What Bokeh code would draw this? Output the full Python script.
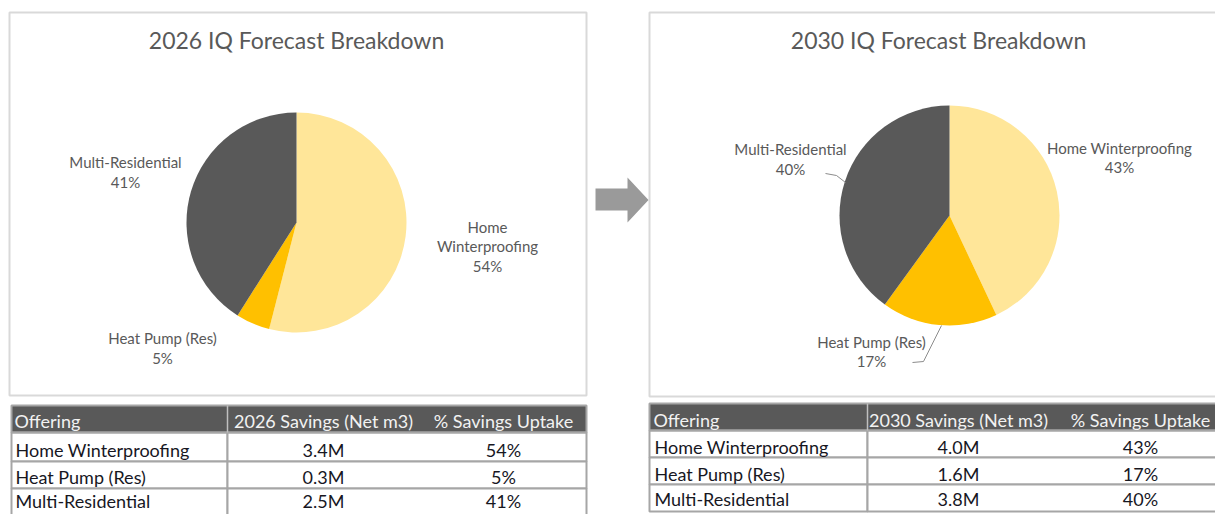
import math
from bokeh.plotting import figure
from bokeh.models import Range1d, ColumnDataSource
from bokeh.core.properties import value
from bokeh.embed import file_html
from bokeh.resources import INLINE

# ---------------- data ----------------
offerings = ["Home Winterproofing", "Heat Pump (Res)", "Multi-Residential"]
titles = ["2026 IQ Forecast Breakdown", "2030 IQ Forecast Breakdown"]
savings_2026 = [3.4, 0.3, 2.5]      # million m3 (net)
uptake_2026 = [54, 5, 41]           # % savings uptake
savings_2030 = [4.0, 1.6, 3.8]
uptake_2030 = [43, 17, 40]
headers_2026 = ["Offering", "2026 Savings (Net m3)", "% Savings Uptake"]
headers_2030 = ["Offering", "2030 Savings (Net m3)", "% Savings Uptake"]

# ---------------- styles ----------------
SLICE_COLORS = ["#FFE699", "#FFC000", "#595959"]
FONT = "Lato"
GREY_TXT = "#595959"
TABLE_TXT = "#17171f"
BOX_LINE = "#d9d9d9"
TABLE_LINE = "#a6a6a6"
HEADER_FILL = "#595959"
TITLE_PX, LABEL_PX, TABLE_PX = 23, 15, 18
BASE_FIX = 0.42   # empirical baseline correction (em)

W, H = 1215, 514


def Y(ry):
    """reference pixel row -> data y"""
    return H - ry


# ---------------- layout ----------------
charts = [
    dict(box=(9, 12, 586, 395), center=(296, 222), r=110, title=(296, 49),
         labels=[(487, [233, 252, 272], True), (162, [344, 364], False), (125, [168, 188], False)],
         leaders=[],
         table=dict(x0=11, x1=586, split=227, c2=323, c3=503, tx=15,
                    rows=[405, 432, 461, 488, 517], base=[428, 457, 484, 508])),
    dict(box=(649, 12, 1230, 396), center=(949, 215), r=110, title=(938, 49),
         labels=[(1119, [154, 173], False), (871, [348, 367], False), (790, [155, 175], False)],
         leaders=[([941, 923, 912], [325, 361, 362]), ([825, 836, 845], [173, 175, 182])],
         table=dict(x0=649, x1=1230, split=867, c2=958, c3=1140, tx=654,
                    rows=[403, 430, 457, 484, 511], base=[427, 454, 481, 506])),
]

p = figure(width=W, height=H, x_range=Range1d(0, W), y_range=Range1d(0, H),
           output_backend="svg", toolbar_location=None, min_border=0,
           x_axis_type=None, y_axis_type=None)
p.grid.visible = False
p.outline_line_color = None
p.background_fill_color = "white"
p.border_fill_color = "white"


def txt(xs, rys, texts, size, color, align="center"):
    ys = [Y(r - BASE_FIX * size) for r in rys]
    p.text(x=xs, y=ys, text=texts, text_font=value(FONT), text_font_size=f"{size}px",
           text_color=color, text_align=align, text_baseline="alphabetic")


years_data = [(savings_2026, uptake_2026, headers_2026), (savings_2030, uptake_2030, headers_2030)]

for idx, L in enumerate(charts):
    savings, uptake, headers = years_data[idx]
    # chart box
    bx0, by0, bx1, by1 = L["box"]
    p.quad(left=bx0, right=bx1, top=Y(by0), bottom=Y(by1), fill_color="white",
           line_color=BOX_LINE, line_width=2)
    # title
    txt([L["title"][0]], [L["title"][1]], [titles[idx]], TITLE_PX, GREY_TXT)
    # pie
    total = sum(uptake)
    cum = [0]
    for u in uptake:
        cum.append(cum[-1] + u)
    start = [math.pi / 2 - 2 * math.pi * c / total for c in cum[:-1]]
    end = [math.pi / 2 - 2 * math.pi * c / total for c in cum[1:]]
    src = ColumnDataSource(dict(start=start, end=end, color=SLICE_COLORS))
    cx, cy = L["center"]
    p.wedge(x=cx, y=Y(cy), radius=L["r"], start_angle="start", end_angle="end",
            direction="clock", fill_color="color", line_color=None, source=src)
    # leader lines
    for lx, ly in L["leaders"]:
        p.line(x=lx, y=[Y(v) for v in ly], line_color="#8c8c8c", line_width=1)
    # data labels
    for i, (lx, bases, wrap) in enumerate(L["labels"]):
        name = offerings[i]
        lines = name.split(" ") if wrap else [name]
        lines = lines + [f"{uptake[i]}%"]
        txt([lx] * len(lines), bases, lines, LABEL_PX, GREY_TXT)

    # table
    T = L["table"]
    rows = T["rows"]
    n = len(offerings)
    # header background
    p.quad(left=T["x0"], right=T["x1"], top=Y(rows[0]), bottom=Y(rows[1]),
           fill_color=HEADER_FILL, line_color=None)
    # body cells
    p.quad(left=[T["x0"]] * n, right=[T["split"]] * n,
           top=[Y(rows[i + 1]) for i in range(n)], bottom=[Y(rows[i + 2]) for i in range(n)],
           fill_color="white", line_color=TABLE_LINE, line_width=2)
    p.quad(left=[T["split"]] * n, right=[T["x1"]] * n,
           top=[Y(rows[i + 1]) for i in range(n)], bottom=[Y(rows[i + 2]) for i in range(n)],
           fill_color="white", line_color=TABLE_LINE, line_width=2)
    # header outline + separator
    p.quad(left=T["x0"], right=T["x1"], top=Y(rows[0]), bottom=Y(rows[1]),
           fill_color=None, line_color=TABLE_LINE, line_width=2)
    p.segment(x0=T["split"], x1=T["split"], y0=Y(rows[0]), y1=Y(rows[1]),
              line_color="#bfbfbf", line_width=1.5)
    # header text
    txt([T["tx"] - 1], [T["base"][0]], [headers[0]], TABLE_PX, "#f2f2f2", "left")
    txt([T["c2"], T["c3"]], [T["base"][0]] * 2, headers[1:], TABLE_PX, "#f2f2f2")
    # body text
    bases = T["base"][1:]
    txt([T["tx"]] * n, bases, offerings, TABLE_PX, TABLE_TXT, "left")
    txt([T["c2"]] * n, bases, [f"{s:.1f}M" for s in savings], TABLE_PX, TABLE_TXT)
    txt([T["c3"]] * n, bases, [f"{u}%" for u in uptake], TABLE_PX, TABLE_TXT)

# arrow between the two charts
p.patch(x=[595, 627, 627, 648, 627, 627, 595], y=[Y(v) for v in [188, 188, 177, 199.5, 222, 210, 210]],
        fill_color="#9a9a9a", line_color=None)

open("out.html", "w").write(file_html(p, INLINE))
